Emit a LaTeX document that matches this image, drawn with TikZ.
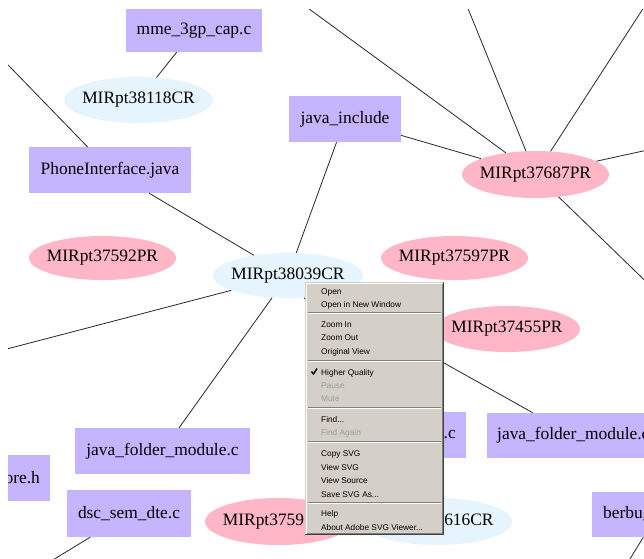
\documentclass[tikz,border=0pt]{standalone}
\usepackage{fontspec}
\setmainfont{Liberation Serif}
\newfontfamily\menufont{Liberation Sans}
\usetikzlibrary{shapes.geometric}
\definecolor{filefill}{HTML}{C5B4FF}
\definecolor{prfill}{HTML}{FFB7C7}
\definecolor{crfill}{HTML}{E6F4FD}
\definecolor{menufill}{HTML}{D4D0C8}
\definecolor{menushade}{HTML}{808080}
\definecolor{menudark}{HTML}{404040}
\definecolor{menuoff}{HTML}{9C9C9C}

\begin{document}
\begin{tikzpicture}[x=1pt,y=-1pt,
    every node/.style={font=\fontsize{17.4}{20}\selectfont},
    file/.style={rectangle,fill=filefill,inner sep=0pt,minimum height=46pt},
    pr/.style={ellipse,fill=prfill,inner xsep=-5pt,inner ysep=0pt,minimum width=147pt,minimum height=46pt},
    cr/.style={ellipse,fill=crfill,inner xsep=-5pt,inner ysep=0pt,minimum width=150pt,minimum height=46pt},
    link/.style={draw=black!85,line width=0.8pt},
    item/.style={anchor=base west,inner sep=0pt,font=\menufont\fontsize{8.3}{10}\selectfont},
    itemoff/.style={item,text=menuoff}]
\useasboundingbox (0,0) rectangle (644,558);
\begin{scope}
\clip (8,9) rectangle (644,558);
% files
\node[file,minimum width=136pt,minimum height=43pt] (mme) at (194,30.5) {mme\_3gp\_cap.c};
\node[file,minimum width=112pt] (jinclude) at (345,119) {java\_include};
\node[file,minimum width=162pt] (phone) at (110,170) {PhoneInterface.java};
\node[file,minimum width=175pt] (jfolderL) at (162.5,451) {java\_folder\_module.c};
\node[file,minimum width=55pt,anchor=east] (coreh) at (50,478) {ore.h};
\node[file,minimum width=124pt,minimum height=47pt] (dsc) at (129,513.5) {dsc\_sem\_dte.c};
\node[file,anchor=east,text width=104pt,align=right,inner xsep=10pt] (boxc) at (466,435) {.c};
\node[file,anchor=west,inner xsep=10pt,minimum height=45pt] (jfolderR) at (487,435.5) {java\_folder\_module.c};
\node[file,anchor=west,text width=108pt,align=left,inner xsep=11pt,minimum height=45pt] (berbug) at (592,514.5) {berbug};
% reports
\node[cr,minimum width=149pt] (cr38118) at (138.5,100) {MIRpt38118CR};
\node[pr,minimum height=44pt] (pr37592) at (102.5,258) {MIRpt37592PR};
\node[cr,minimum height=45pt] (cr38039) at (288,275.5) {MIRpt38039CR};
\node[pr,minimum height=44pt] (pr37597) at (454.5,258) {MIRpt37597PR};
\node[pr,minimum height=47pt] (pr37687) at (535.5,174.5) {MIRpt37687PR};
\node[pr,minimum width=146pt] (pr37455) at (507,329) {MIRpt37455PR};
\node[pr,minimum height=47pt] (pr37593) at (278.5,521.5) {MIRpt3759\phantom{2PR}};
\node[cr,minimum height=47pt] (cr37616) at (437,521.5) {\phantom{MIRpt37}616CR};
% ends outside the view
\coordinate (offA) at (-20,36);
\coordinate (offB) at (275,-16);
\coordinate (offC) at (458,-16);
\coordinate (offD) at (659,-16);
\coordinate (offE) at (666,146);
\coordinate (offF) at (666,301);
\coordinate (offG) at (-20,356);
\coordinate (offH) at (43,566);
\coordinate (offI) at (622,572);
% links
\draw[link] (phone) -- (offA);
\draw[link] (mme) -- (cr38118);
\draw[link] (phone) -- (cr38039);
\draw[link] (jinclude) -- (cr38039);
\draw[link] (jinclude) -- (pr37687);
\draw[link] (pr37687) -- (offB);
\draw[link] (pr37687) -- (offC);
\draw[link] (pr37687) -- (offD);
\draw[link] (pr37687) -- (offE);
\draw[link] (pr37687) -- (offF);
\draw[link] (cr38039) -- (offG);
\draw[link] (cr38039) -- (jfolderL);
\draw[link] (cr38039) -- (jfolderR);
\draw[link] (cr38039) -- (boxc);
\draw[link] (dsc) -- (offH);
\draw[link] (berbug) -- (offI);
\end{scope}
% context menu
\fill[menufill] (305,282) rectangle (444,535);
\draw[white,line width=1pt] (306.5,533.5) -- (306.5,283.5) -- (442.5,283.5);
\draw[menushade,line width=1pt] (307,533.5) -- (442.5,533.5) -- (442.5,284);
\draw[menudark,line width=1pt] (305,534.5) -- (443.5,534.5) -- (443.5,282);
\foreach \h in {313,361,408,442,503} {
  \draw[menushade,line width=1pt] (308,\h-0.5) -- (441,\h-0.5);
  \draw[white,line width=1pt] (308,\h+0.5) -- (441,\h+0.5);
}
\node[item] (mOpen) at (321,294.5) {Open};
\node[item] (mNewWin) at (321,307.5) {Open in New Window};
\node[item] (mZoomIn) at (321,327.5) {Zoom In};
\node[item] (mZoomOut) at (321,340.5) {Zoom Out};
\node[item] (mOrig) at (321,354.5) {Original View};
\draw[line width=1.4pt] (311.5,371.5) -- (313.5,374) -- (317,368.5);
\node[item] (mQuality) at (321,375.5) {Higher Quality};
\node[itemoff] (mPause) at (321,388.5) {Pause};
\node[itemoff] (mMute) at (321,401.5) {Mute};
\node[item] (mFind) at (321,422.5) {Find...};
\node[itemoff] (mFindAgain) at (321,435.5) {Find Again};
\node[item] (mCopy) at (321,456.5) {Copy SVG};
\node[item] (mViewSvg) at (321,470) {View SVG};
\node[item] (mSource) at (321,483.5) {View Source};
\node[item] (mSave) at (321,497) {Save SVG As...};
\node[item] (mHelp) at (321,516.5) {Help};
\node[item] (mAbout) at (321,530.5) {About Adobe SVG Viewer...};
\end{tikzpicture}
\end{document}
